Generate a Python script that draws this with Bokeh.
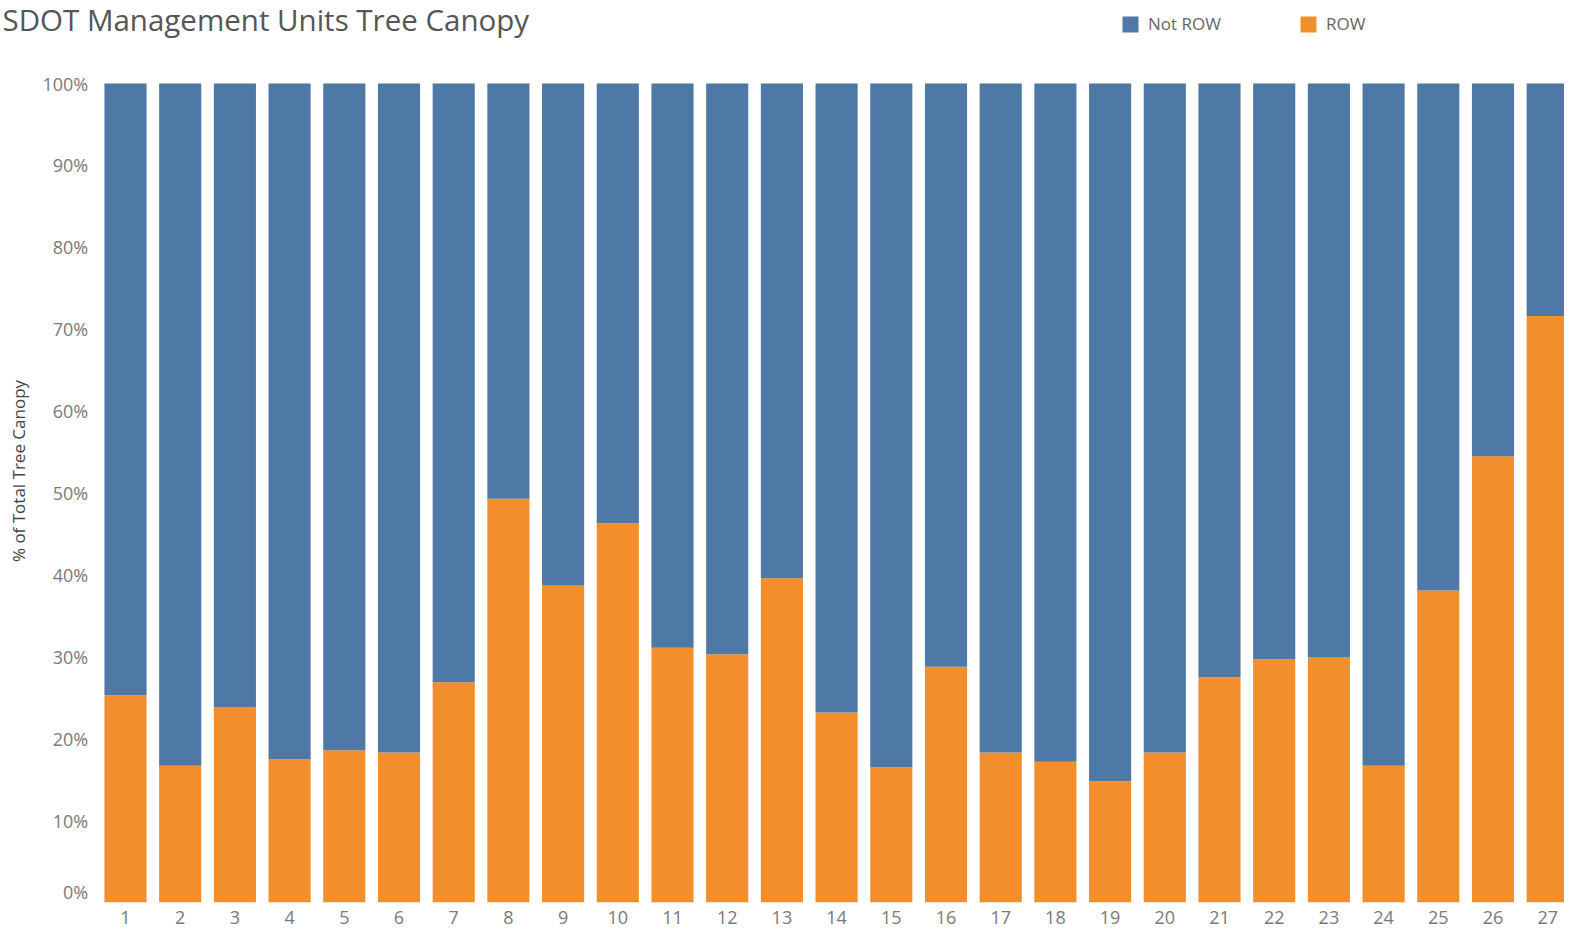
import math
from bokeh.plotting import figure
from bokeh.models import Range1d, FixedTicker, Label, Legend, LegendItem, ColumnDataSource
from bokeh.core.properties import value
from bokeh.embed import file_html
from bokeh.resources import INLINE

units = [str(i) for i in range(1, 28)]
row_pct = [25.3, 16.7, 23.8, 17.5, 18.6, 18.3, 26.9, 49.3, 38.7, 46.3, 31.1, 30.3, 39.6, 23.2,
           16.5, 28.8, 18.3, 17.2, 14.8, 18.3, 27.5, 29.7, 29.9, 16.7, 38.1, 54.5, 71.6]
not_row_pct = [100 - v for v in row_pct]
series = ["Not ROW", "ROW"]
colors = ["#4e79a7", "#f28e2b"]
y_ticks = [i / 10 for i in range(11)]
y_tick_labels = [f"{i * 10}%" for i in range(11)]

FONT = "Open Sans"
W, H = 1564, 934
FRAME_BOTTOM = 902          # pixel row of 0%
PX_PER_UNIT_Y = 819         # pixels from 0% to 100%
PX_PER_BAR = 54.7           # pixels between bar centres
FIRST_BAR_PX = 125          # pixel column of bar 1 centre

xs = list(range(1, 28))
row_frac = [v / 100 for v in row_pct]
notrow_frac = [v / 100 for v in not_row_pct]
tops_notrow = [a + b for a, b in zip(row_frac, notrow_frac)]

x0 = 1 - FIRST_BAR_PX / PX_PER_BAR
p = figure(width=W, height=H, output_backend="svg", toolbar_location=None,
           x_range=Range1d(x0, x0 + W / PX_PER_BAR),
           y_range=Range1d(0, FRAME_BOTTOM / PX_PER_UNIT_Y),
           y_axis_location=None,
           min_border_left=0, min_border_right=0, min_border_top=0,
           min_border_bottom=H - FRAME_BOTTOM)
p.outline_line_color = None
p.background_fill_color = "white"
p.xgrid.grid_line_color = None
p.ygrid.grid_line_color = None

r_row = p.vbar(x=xs, bottom=0, top=row_frac, width=0.77, fill_color=colors[1], line_color=None)
r_not = p.vbar(x=xs, bottom=row_frac, top=tops_notrow, width=0.77, fill_color=colors[0], line_color=None)

# x axis
ax = p.xaxis[0]
ax.ticker = FixedTicker(ticks=xs)
ax.major_label_overrides = {x: u for x, u in zip(xs, units)}
ax.axis_line_color = None
ax.major_tick_line_color = None
ax.minor_tick_line_color = None
ax.major_tick_out = 0
ax.major_label_text_color = "#7a7a7a"
ax.major_label_text_font = FONT
ax.major_label_text_font_size = "18px"
ax.major_label_standoff = 8

# y tick labels (drawn at the left edge of the bar area); the 0% label is nudged up
ytick_src = ColumnDataSource(dict(
    y=y_ticks, text=y_tick_labels,
    dy=[-11 if t == 0 else 0 for t in y_ticks]))
p.text(x=0.5, y="y", text="text", source=ytick_src, x_offset=-10, y_offset="dy",
       text_align="right", text_baseline="middle", text_font=value(FONT),
       text_font_size=value("18px"), text_color="#7a7a7a")

# y axis title
p.text(x=[0.5], y=[0.5], text=["% of Total Tree Canopy"], x_offset=-80, y_offset=-22,
       angle=math.pi / 2, text_align="center", text_baseline="middle",
       text_font=value(FONT), text_font_size=value("17px"), text_color="#444444")

title = Label(x=2, y=FRAME_BOTTOM - 19, x_units="screen", y_units="screen",
              text="SDOT Management Units Tree Canopy", text_font=FONT,
              text_font_size="29.5px", text_color="#555555", text_baseline="alphabetic")
p.add_layout(title)

for name, rend, vx in [(series[0], r_not, 1120), (series[1], r_row, 1298)]:
    lg = Legend(items=[LegendItem(label=name, renderers=[rend])],
                location=(vx, FRAME_BOTTOM - 35),
                orientation="horizontal", padding=0, margin=0, border_line_color=None,
                background_fill_alpha=0, glyph_width=20, glyph_height=20, label_standoff=8,
                label_text_font=FONT, label_text_font_size="17px", label_text_color="#666666",
                label_height=20)
    p.add_layout(lg)

open("out.html", "w").write(file_html(p, INLINE))
